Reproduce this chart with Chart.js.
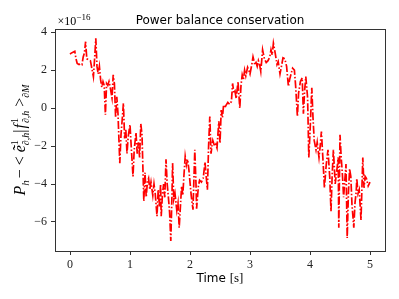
<!DOCTYPE html>
<html lang="en">
<head>
<meta charset="UTF-8">
<title>Power balance conservation</title>
<script src="https://cdn.jsdelivr.net/npm/chart.js"></script>
<style>
  body { margin: 0; padding: 0; background: #fff; }
  #wrap { width: 399px; height: 299px; }
</style>
</head>
<body>
<div id="wrap"><canvas id="chart" width="399" height="299"></canvas></div>
<script>
// time [s] and power balance error (units of 1e-16)
const timeValues = [
  0.00, 0.02, 0.05, 0.08, 0.10, 0.12, 0.15, 0.18, 0.20, 0.22, 0.24, 0.26, 0.28, 0.31, 0.34, 0.37, 0.39, 0.41, 0.43, 0.45,
  0.47, 0.49, 0.51, 0.53, 0.55, 0.57, 0.59, 0.61, 0.63, 0.65, 0.67, 0.70, 0.72, 0.74, 0.76, 0.78, 0.80, 0.83, 0.85, 0.87,
  0.89, 0.91, 0.93, 0.95, 0.97, 1.00, 1.02, 1.05, 1.07, 1.10, 1.12, 1.14, 1.16, 1.18, 1.20, 1.23, 1.25, 1.27, 1.29, 1.31,
  1.33, 1.35, 1.38, 1.40, 1.42, 1.45, 1.47, 1.49, 1.51, 1.52, 1.54, 1.56, 1.58, 1.60, 1.62, 1.64, 1.66, 1.68, 1.70, 1.71,
  1.73, 1.75, 1.78, 1.80, 1.82, 1.84, 1.86, 1.88, 1.90, 1.92, 1.94, 1.96, 1.98, 2.00, 2.02, 2.05, 2.08, 2.10, 2.11, 2.13,
  2.14, 2.16, 2.19, 2.22, 2.25, 2.27, 2.29, 2.31, 2.33, 2.35, 2.37, 2.38, 2.41, 2.43, 2.45, 2.48, 2.50, 2.52, 2.54, 2.56,
  2.58, 2.60, 2.63, 2.66, 2.69, 2.71, 2.73, 2.75, 2.77, 2.80, 2.83, 2.85, 2.87, 2.89, 2.91, 2.93, 2.96, 2.98, 3.00, 3.03,
  3.05, 3.08, 3.10, 3.12, 3.14, 3.16, 3.18, 3.21, 3.24, 3.27, 3.30, 3.33, 3.35, 3.37, 3.39, 3.42, 3.45, 3.47, 3.50, 3.53,
  3.55, 3.58, 3.61, 3.64, 3.66, 3.68, 3.71, 3.74, 3.76, 3.79, 3.81, 3.84, 3.87, 3.89, 3.91, 3.93, 3.96, 3.98, 4.00, 4.03,
  4.05, 4.07, 4.10, 4.12, 4.15, 4.17, 4.19, 4.22, 4.24, 4.27, 4.30, 4.33, 4.35, 4.37, 4.39, 4.42, 4.45, 4.47, 4.48, 4.50,
  4.52, 4.54, 4.56, 4.60, 4.62, 4.64, 4.66, 4.68, 4.70, 4.73, 4.75, 4.77, 4.78, 4.80, 4.82, 4.85, 4.88, 4.90, 4.92, 4.94,
  4.97, 5.00
];
const balanceValues = [
  2.85, 2.9, 2.95, 3.0, 2.6, 2.35, 2.3, 2.35, 2.3, 2.7, 2.9, 3.5, 2.6, 2.55, 2.5, 2.0, 1.66, 2.6, 3.68, 2.2,
  1.8, 2.2, 1.5, 1.1, 1.4, 1.2, -0.35, 1.3, 1.2, 1.4, 1.1, 0.54, 1.75, 1.3, -0.5, 0.6, -0.3, -2.9, -1.4, -0.6,
  0.26, -1.6, -1.1, -2.4, -1.5, -0.87, -2.0, -3.6, -2.2, -1.3, -2.4, -1.8, -2.6, -0.83, -1.4, -4.9, -3.4, -4.7, -3.9, -3.7,
  -4.3, -3.9, -4.6, -4.0, -4.5, -5.7, -4.3, -5.2, -4.0, -5.7, -4.6, -4.0, -4.7, -2.7, -4.0, -4.7, -5.5, -7.0, -4.5, -2.9,
  -4.8, -4.5, -5.4, -5.0, -6.3, -5.2, -4.1, -4.6, -3.5, -2.55, -3.0, -2.7, -3.2, -3.9, -4.6, -5.35, -2.2, -4.0, -5.3, -4.5,
  -4.1, -3.8, -3.9, -3.7, -2.85, -3.6, -4.3, -2.0, -0.44, -2.4, -1.9, -1.7, -2.0, -1.9, -2.1, -0.7, -1.85, -0.1, -0.5, 0.17,
  0.0, 0.15, 0.3, 0.2, 0.35, 1.3, 0.8, 0.9, 0.5, 1.4, 0.0, 1.2, 1.75, 1.5, 2.0, 1.7, 2.15, 2.0, 1.8, 2.3,
  2.7, 2.3, 2.4, 2.2, 2.5, 2.3, 1.93, 3.07, 2.6, 2.4, 2.5, 2.7, 3.07, 2.8, 3.42, 2.9, 2.3, 2.45, 1.8, 2.3,
  2.65, 2.6, 2.2, 1.14, 1.5, 1.75, 2.1, 2.0, 1.2, -0.44, 0.8, 1.4, 1.6, -0.3, 0.9, 1.66, 0.55, -2.6, -1.3, 1.07,
  -0.5, -1.7, -2.2, -1.8, -2.6, -2.0, -1.23, -2.95, -4.2, -3.0, -2.2, -3.7, -5.44, -3.5, -2.2, -4.0, -3.2, -2.6, -6.3, -1.4,
  -2.6, -3.5, -4.7, -2.95, -6.85, -4.5, -3.2, -3.6, -5.1, -6.3, -5.0, -4.4, -3.7, -4.5, -4.3, -5.9, -2.6, -4.2, -3.6, -3.7,
  -4.1, -3.9
];
const xTicks = [0, 1, 2, 3, 4, 5];
const yTicks = [-6, -4, -2, 0, 2, 4];

const SERIF = '"Liberation Serif", "DejaVu Serif", serif';
const SANS = '"DejaVu Sans", sans-serif';
const AXIS_COLOR = '#333';

// draws a run of text pieces (normal, sub/superscript, stacked) centred on (x, y)
function drawRich(ctx, parts, x, y, angle) {
  const fontOf = p => (p.it ? 'italic ' : '') + p.size + 'px ' + SERIF;
  const widthOf = p => {
    if (p.stack) return Math.max(...p.stack.map(widthOf));
    ctx.font = fontOf(p);
    return ctx.measureText(p.t).width + (p.gap || 0);
  };
  const total = parts.reduce((s, p) => s + widthOf(p), 0);
  ctx.save();
  ctx.translate(x, y);
  ctx.rotate(angle || 0);
  ctx.textBaseline = 'alphabetic';
  ctx.textAlign = 'left';
  ctx.fillStyle = '#000';
  let cx = -total / 2;
  for (const p of parts) {
    const items = p.stack || [p];
    for (const q of items) {
      ctx.font = fontOf(q);
      ctx.fillText(q.t, cx, q.dy || 0);
    }
    cx += widthOf(p);
  }
  ctx.restore();
}

const decorations = {
  id: 'decorations',
  afterDraw(chart) {
    const ctx = chart.ctx;
    const a = chart.chartArea;
    ctx.save();
    ctx.strokeStyle = AXIS_COLOR;
    ctx.lineWidth = 1;
    ctx.strokeRect(Math.round(a.left) + 0.5, Math.round(a.top) + 0.5,
      Math.round(a.right - a.left), Math.round(a.bottom - a.top));

    const midX = (a.left + a.right) / 2;
    ctx.fillStyle = '#000';
    ctx.textAlign = 'center';
    ctx.textBaseline = 'alphabetic';
    ctx.font = '12px ' + SANS;
    ctx.fillText('Power balance conservation', midX, 24);

    // x label: "Time" in sans, "[s]" in serif
    ctx.font = '12px ' + SANS;
    const w1 = ctx.measureText('Time ').width;
    ctx.font = '13px ' + SERIF;
    const w2 = ctx.measureText('[s]').width;
    let sx = midX - (w1 + w2) / 2;
    ctx.textAlign = 'left';
    ctx.font = '12px ' + SANS;
    ctx.fillText('Time ', sx, 282);
    ctx.font = '13px ' + SERIF;
    ctx.fillText('[s]', sx + w1, 282);
    ctx.restore();

    // offset text for the y axis
    drawRich(ctx, [
      { t: '\u00d710', size: 12 },
      { t: '\u221216', size: 9, dy: -5 }
    ], a.left + 19, 25, 0);

    // y label
    const sub = { size: 10, dy: 4, it: true };
    drawRich(ctx, [
      { t: 'P', size: 16, it: true },
      { t: 'h', size: 11, it: true, dy: 4, gap: 2 },
      { t: '\u2212 < ', size: 16 },
      { t: '\u1ebd', size: 16, it: true },
      { stack: [{ t: '1', size: 10, dy: -7 }, Object.assign({ t: '\u2202,h' }, sub)] },
      { t: '|', size: 16, gap: 1 },
      { t: 'f', size: 16, it: true, gap: 1 },
      { stack: [{ t: '1', size: 10, dy: -7 }, Object.assign({ t: '\u2202,h' }, sub)] },
      { t: ' >', size: 16 },
      { t: '\u2202M', size: 10, it: true, dy: 4 }
    ], 25, (a.top + a.bottom) / 2, -Math.PI / 2);
  }
};

new Chart(document.getElementById('chart'), {
  type: 'line',
  data: {
    datasets: [{
      data: timeValues.map((t, i) => ({ x: t, y: balanceValues[i] })),
      borderColor: '#ff0000',
      borderWidth: 1.7,
      borderDash: [8, 2, 1.5, 2],
      pointRadius: 0,
      tension: 0,
      fill: false
    }]
  },
  options: {
    responsive: false,
    animation: false,
    devicePixelRatio: 1,
    layout: { padding: { left: 0, right: 14, top: 29, bottom: 0 } },
    plugins: { legend: { display: false }, tooltip: { enabled: false } },
    scales: {
      x: {
        type: 'linear',
        min: -0.25,
        max: 5.25,
        afterBuildTicks: s => { s.ticks = xTicks.map(v => ({ value: v })); },
        afterFit: s => { s.height = 48; },
        border: { display: false },
        grid: { drawOnChartArea: false, drawTicks: true, tickLength: 4, color: AXIS_COLOR },
        ticks: {
          color: '#222', padding: 3, maxRotation: 0,
          font: { family: SERIF, size: 12 },
          callback: v => String(v)
        }
      },
      y: {
        min: -7.53,
        max: 4.17,
        afterBuildTicks: s => { s.ticks = yTicks.map(v => ({ value: v })); },
        afterFit: s => { s.width = 55; },
        border: { display: false },
        grid: { drawOnChartArea: false, drawTicks: true, tickLength: 4, color: AXIS_COLOR },
        ticks: {
          color: '#222', padding: 4,
          font: { family: SERIF, size: 12 },
          callback: v => (v < 0 ? '\u2212' + Math.abs(v) : String(v))
        }
      }
    }
  },
  plugins: [decorations]
});
</script>
</body>
</html>
